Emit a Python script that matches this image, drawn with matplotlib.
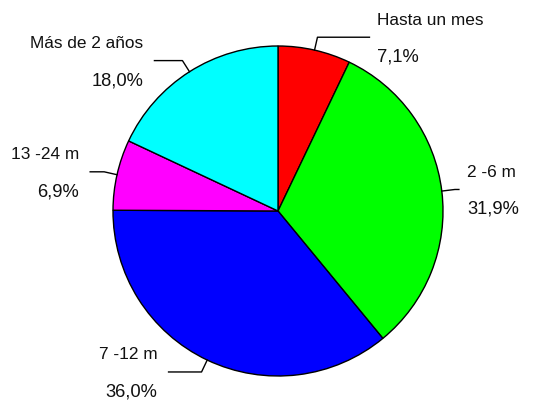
import numpy as np
import matplotlib as mpl
mpl.use('Agg')
import matplotlib.pyplot as plt

# datos
categorias = ['Hasta un mes', '2 -6 m', '7 -12 m', '13 -24 m', 'Más de 2 años']
porcentajes = [7.1, 31.9, 36.0, 6.9, 18.0]
colores = ['#FF0000', '#00FF00', '#0000FF', '#FF00FF', '#00FFFF']

# largo del tramo horizontal de cada guia (px)
tramo = [52, 4, 33, 14, 28]

plt.rcParams['font.family'] = ['Liberation Sans', 'DejaVu Sans']
fig = plt.figure(figsize=(5.35, 4.02), dpi=100)
ax = fig.add_axes([0, 0, 1, 1])

cx, cy, r = 278, 190, 165
wedges, _ = ax.pie(porcentajes, colors=colores, startangle=90, counterclock=False,
                   center=(cx, cy), radius=r, frame=True,
                   wedgeprops=dict(edgecolor='black', linewidth=1.0))
ax.set_xlim(0, 535)
ax.set_ylim(0, 402)
ax.set_aspect('equal')
ax.axis('off')

for w, cat, p, t in zip(wedges, categorias, porcentajes, tramo):
    ang = np.deg2rad((w.theta1 + w.theta2) / 2)
    x0, y0 = cx + r * np.cos(ang), cy + r * np.sin(ang)
    x1, y1 = cx + 1.08 * r * np.cos(ang), cy + 1.08 * r * np.sin(ang)
    lado = 1 if np.cos(ang) >= 0 else -1
    x2 = x1 + lado * t
    ax.plot([x0, x1, x2], [y0, y1, y1], color='black', lw=1.0)
    if lado > 0:
        xt, ha = x2 + 8, 'left'
    else:
        xt, ha = x2 - 11, 'right'
    ax.text(xt, y1 + 18, cat, ha=ha, va='center', fontsize=12.4, color='#111111')
    ax.text(xt, y1 - 19, ('%.1f%%' % p).replace('.', ','), ha=ha, va='center',
            fontsize=13.2, color='#111111')

plt.savefig('out.png', dpi=100)
plt.close()
